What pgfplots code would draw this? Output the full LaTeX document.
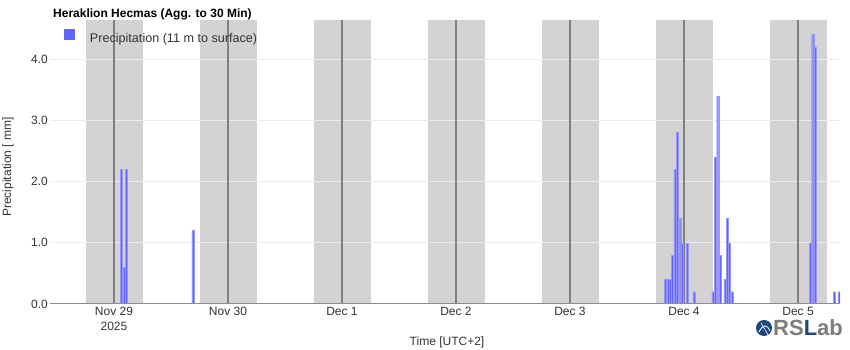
\documentclass[border=0pt]{standalone}
\usepackage{pgfplots}
\pgfplotsset{compat=1.18}
\usepackage{fontspec}
\setmainfont{Liberation Sans}
\definecolor{barblue}{RGB}{99,99,255}
\definecolor{baredge}{RGB}{150,150,255}
\definecolor{band}{RGB}{211,211,211}
\definecolor{midline}{RGB}{128,128,128}
\definecolor{gridc}{RGB}{236,236,236}
\definecolor{axisc}{RGB}{140,140,140}
\definecolor{txt}{RGB}{51,51,51}
\definecolor{logoblue}{RGB}{30,70,130}
\definecolor{logogray}{RGB}{125,125,125}

\begin{document}
\begin{tikzpicture}[x=1pt,y=1pt]
\path[use as bounding box] (0pt,0pt) rectangle (850pt,350pt);
\begin{axis}[
  at={(50pt,46pt)}, anchor=south west,
  scale only axis, width=790pt, height=284pt,
  xmin=-0.5614, xmax=6.3684, ymin=0, ymax=4.637,
  axis line style={draw=none},
  major tick length=0pt,
  xtick={0,1,2,3,4,5,6},
  xticklabels={{Nov 29\\2025},{Nov 30},{Dec 1},{Dec 2},{Dec 3},{Dec 4},{Dec 5}},
  xticklabel style={align=center, inner sep=0pt, yshift=-3pt, font=\fontsize{12}{14.5}\selectfont, text=txt},
  ytick={0,1,2,3,4},
  yticklabel style={inner sep=0pt, xshift=-2pt, font=\fontsize{12}{14}\selectfont, text=txt},
  yticklabel={\pgfmathprintnumber[fixed,fixed zerofill,precision=1]{\tick}},
  /pgf/number format/assume math mode=true,
  legend style={at={(rel axis cs:0.0177,0.968)}, anchor=north west, draw=none, fill=none,
    inner sep=0pt, outer sep=0pt, font=\fontsize{12.6}{14}\selectfont, text=txt,
    nodes={inner sep=0pt}, /tikz/every odd column/.append style={column sep=0pt}},
]
% night shading
\fill[band] (-0.25,0) rectangle (0.25,4.637);
\fill[band] (0.75,0) rectangle (1.25,4.637);
\fill[band] (1.75,0) rectangle (2.25,4.637);
\fill[band] (2.75,0) rectangle (3.25,4.637);
\fill[band] (3.75,0) rectangle (4.25,4.637);
\fill[band] (4.75,0) rectangle (5.25,4.637);
\fill[band] (5.75,0) rectangle (6.25,4.637);
% grid
\draw[gridc, line width=1pt] (-0.5614,1) -- (6.3684,1);
\draw[gridc, line width=1pt] (-0.5614,2) -- (6.3684,2);
\draw[gridc, line width=1pt] (-0.5614,3) -- (6.3684,3);
\draw[gridc, line width=1pt] (-0.5614,4) -- (6.3684,4);
% midnight lines
\draw[midline, line width=2pt] (0,0) -- (0,4.637);
\draw[midline, line width=2pt] (1,0) -- (1,4.637);
\draw[midline, line width=2pt] (2,0) -- (2,4.637);
\draw[midline, line width=2pt] (3,0) -- (3,4.637);
\draw[midline, line width=2pt] (4,0) -- (4,4.637);
\draw[midline, line width=2pt] (5,0) -- (5,4.637);
\draw[midline, line width=2pt] (6,0) -- (6,4.637);
\addplot[ybar, bar width=2pt, fill=barblue, draw=baredge, line width=0.3pt,
  legend image code/.code={\fill[barblue, draw=none] (0pt,-1.5pt) rectangle (11pt,9.5pt); \path[draw=none, fill=none] (0pt,0pt) -- (26pt,0pt);}]
  coordinates {
  (0.0667,2.2) (0.0875,0.6) (0.1083,2.2) (0.6917,1.2)
  (4.8375,0.4) (4.8583,0.4) (4.8792,0.4) (4.9000,0.8) (4.9208,2.2) (4.9417,2.8)
  (4.9625,1.4) (4.9833,1.0) (5.0250,1.0) (5.0875,0.2)
  (5.2542,0.2) (5.2750,2.4) (5.2958,3.4) (5.3167,0.8) (5.3583,0.4) (5.3792,1.4)
  (5.4000,1.0) (5.4208,0.2)
  (6.1083,1.0) (6.1292,4.4) (6.1500,4.2) (6.3167,0.2) (6.3583,0.2)
  };
\addlegendentry{Precipitation (11 m to surface)}
\draw[axisc, line width=1.5pt] (-0.5614,0) -- (6.3684,0);
\end{axis}
% title
\node[anchor=base west, inner sep=0pt, font=\fontsize{12}{14}\selectfont\bfseries] at (53pt,332.5pt) {Heraklion Hecmas (Agg. to 30 Min)};
% y label
\node[rotate=90, inner sep=0pt, font=\fontsize{12}{14}\selectfont, text=txt] at (8pt,183pt) {Precipitation [ mm]};
% x label
\node[anchor=base, inner sep=0pt, font=\fontsize{12}{14}\selectfont, text=txt] at (447pt,4pt) {Time [UTC+2]};
% logo
\fill[logoblue] (764pt,22pt) circle (8pt);
\draw[white, line width=0.8pt] (759pt,18pt) .. controls (763pt,26pt) and (767pt,26pt) .. (770pt,19pt);
\draw[white, line width=0.6pt] (761pt,27pt) .. controls (764pt,22pt) and (766pt,19pt) .. (768pt,15pt);
\node[anchor=west, inner sep=0pt, font=\fontsize{22}{24}\selectfont\bfseries] at (773pt,22.5pt) {\textcolor{logogray}{RS}\textcolor{logoblue}{L}\textcolor{logogray}{ab}};
\end{tikzpicture}
\end{document}
